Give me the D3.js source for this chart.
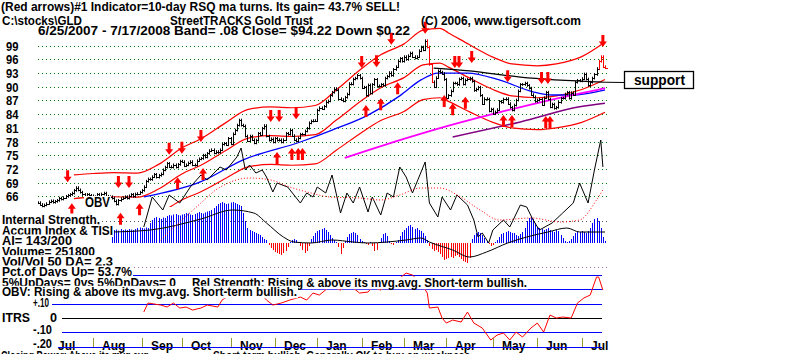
<!DOCTYPE html>
<html>
<head>
<meta charset="utf-8">
<script src="https://cdn.jsdelivr.net/npm/d3@7"></script>
<style>
  body { margin: 0; background: #fff; }
  svg { display: block; font-family: "Liberation Sans", Arial, sans-serif; font-weight: bold; }
</style>
</head>
<body>
<div id="chart"></div>
<script>
const W = 800, H = 354;

// trading calendar
const startDate = "2007-06-25", endDate = "2008-07-17";
const holidays = ["2007-07-04", "2007-09-03", "2007-11-22", "2007-12-25", "2008-01-01",
  "2008-01-21", "2008-02-18", "2008-03-21", "2008-05-26", "2008-07-04"];
const monthNames = ["Jul", "Aug", "Sep", "Oct", "Nov", "Dec", "Jan", "Feb", "Mar", "Apr", "May", "Jun", "Jul"];
const priceTicks = [99, 96, 93, 90, 87, 84, 81, 78, 75, 72, 69, 66];

// daily closes, one per trading day
const closes = [
  64.6, 64.2, 63.9, 64.1, 64.4,
  64.8, 65.0, 64.7, 64.9, 65.1, 65.6, 65.4, 65.7, 66.0, 66.2, 66.4, 66.7, 67.3, 67.9, 67.4, 66.9, 66.4, 66.0, 66.4, 66.2, 66.1,
  65.7, 65.9, 66.4, 66.1, 66.5, 66.7, 66.0, 65.8, 65.9, 65.6, 65.0, 64.3, 65.1, 65.5, 65.7, 65.9, 65.6, 66.1, 66.4, 66.0, 66.5, 66.6, 66.9,
  67.3, 68.1, 69.3, 69.8, 69.7, 70.3, 70.8, 70.2, 70.6, 70.9, 71.8, 72.4, 73.2, 72.5, 72.4, 72.9, 72.4, 73.0, 73.7,
  73.6, 72.7, 72.9, 73.3, 73.6, 72.9, 72.8, 73.8, 74.2, 74.3, 75.0, 74.6, 75.4, 76.0, 76.2, 75.5, 75.8, 75.6, 76.2, 77.4, 77.6, 77.3, 78.7,
  77.5, 79.7, 80.5, 81.6, 82.7, 81.6, 81.4, 79.2, 78.2, 79.2, 78.4, 77.7, 78.3, 79.8, 79.5, 80.9, 81.5, 79.2, 78.3, 78.6, 77.9,
  78.7, 78.3, 78.4, 77.9, 78.4, 79.8, 79.6, 80.5, 79.3, 78.4, 78.1, 78.8, 79.6, 79.6, 80.3, 80.9, 82.1, 82.5, 82.6, 82.6,
  84.9, 85.4, 85.2, 85.7, 86.6, 86.9, 88.1, 88.8, 89.6, 89.3, 87.4, 87.2, 86.9, 87.7, 88.4, 90.7, 90.6, 91.7, 91.9, 92.5, 91.9,
  89.8, 89.9, 88.1, 90.4, 88.6, 90.5, 91.6, 90.1, 90.2, 90.5, 90.3, 91.9, 92.3, 93.1, 92.5, 93.8, 94.4, 95.6, 96.2, 95.6,
  96.6, 96.0, 96.8, 97.4, 96.6, 96.3, 96.6, 97.9, 98.7, 98.1, 100.1, 98.7, 94.9, 91.1, 90.0, 92.0, 93.5, 93.2, 92.9, 91.6,
  87.6, 88.1, 89.1, 90.8, 90.8, 90.5, 91.7, 91.9, 90.6, 91.5, 91.6, 91.9, 91.2, 89.2, 89.5, 89.9, 88.1, 86.3, 87.4, 87.3, 84.7, 85.1,
  84.1, 84.5, 85.0, 86.8, 86.6, 87.3, 87.4, 86.3, 85.5, 84.9, 86.0, 87.1, 89.1, 90.5, 90.5, 90.8, 90.3, 89.7, 88.3, 87.8, 86.8,
  87.1, 87.3, 86.1, 87.6, 88.8, 87.3, 85.6, 86.2, 85.3, 85.5, 86.6, 87.5, 87.5, 88.4, 88.8, 87.5, 88.7, 88.3, 91.0, 91.4, 91.3,
  91.8, 92.8, 91.7, 90.3, 91.0, 91.9, 92.7, 94.0, 95.6, 96.6, 94.4, 94.2
];
const redBars = [184, 185, 186, 265, 266, 267, 268];

// bands around the 21-day ma (read at trading-day indexes)
const bandDays = [17, 26, 36, 47, 57, 68, 77, 89, 99, 110, 120, 131, 141, 153, 162, 173, 182, 190, 194, 204, 215, 224, 236, 245, 257, 268];
const upperBand = [70.7, 71.0, 71.2, 71.1, 73.0, 76.6, 78.6, 82.2, 85.0, 85.6, 85.4, 85.9, 89.3, 94.0, 97.0, 99.4, 102.4, 102.8, 101.8, 99.2, 96.5, 95.0, 94.6, 95.0, 96.6, 99.8];
const ma21 = [65.5, 65.8, 65.9, 65.8, 67.6, 70.9, 72.8, 76.1, 78.7, 79.3, 79.1, 79.5, 82.7, 87.0, 89.8, 92.0, 94.8, 95.2, 94.3, 91.9, 89.4, 88.0, 87.6, 88.0, 89.4, 91.6];
const lowerBand = [60.3, 60.5, 60.6, 60.5, 62.2, 65.2, 67.0, 70.0, 72.4, 73.0, 72.8, 73.1, 76.1, 80.0, 82.6, 84.6, 87.2, 87.6, 86.8, 84.5, 82.2, 81.0, 80.6, 81.0, 82.2, 84.4];

const blueDays = [50, 77, 97, 124, 139, 156, 171, 181, 189, 203, 218, 234, 243, 253, 266, 268];
const blueVals = [65.85, 69.2, 74.0, 77.9, 80.5, 83.8, 88.0, 91.5, 93.0, 93.0, 91.5, 88.9, 88.2, 88.2, 89.1, 89.3];
const magDays = [145, 171, 195, 218, 242, 266, 268];
const magVals = [74.4, 78.3, 81.6, 84.4, 87.1, 89.5, 89.7];
const purDays = [196, 228, 256, 268];
const purVals = [79.0, 82.3, 85.6, 86.4];
const supDays = [187, 204, 228, 267];
const supVals = [94.1, 93.5, 92.1, 91.0];

// red arrows (tip price)
const dnDays = [14, 38, 43, 62, 68, 77, 110, 114, 122, 153, 160, 167, 183, 197, 199, 205, 222, 238, 241, 267];
const dnPrices = [69.1, 67.8, 67.8, 75.1, 75.3, 77.9, 82.3, 82.3, 82.9, 94.1, 94.3, 99.2, 101.6, 94.1, 94.1, 95.2, 91.0, 90.6, 90.6, 98.7];
const upDays = [16, 39, 48, 66, 78, 113, 120, 123, 125, 155, 162, 170, 192, 196, 202, 220, 224, 240, 242];
const upPrices = [64.5, 62.4, 64.5, 70.2, 72.2, 75.7, 76.6, 76.6, 76.6, 86.0, 87.5, 91.0, 88.2, 86.4, 87.8, 83.8, 83.8, 83.6, 83.6];

// OBV (relative units) and its moving average
const obvDays = [50, 54, 59, 62, 67, 72, 77, 80, 86, 89, 94, 96, 98, 100, 103, 106, 108, 111, 113, 118, 121, 124, 127, 130, 132, 136, 139, 143, 146, 149,
  152, 156, 158, 162, 165, 168, 171, 174, 177, 183, 185, 189, 191, 195, 198, 203, 206, 208, 210, 213, 215, 220, 223, 228, 231, 234, 237, 243, 248, 253,
  256, 260, 263, 266, 267];
const obvVals = [18, 48, 35, 50, 42, 58, 70, 65, 78, 75, 88, 97, 75, 80, 72, 75, 68, 53, 62, 58, 50, 42, 52, 48, 58, 52, 70, 32, 52, 42,
  58, 33, 48, 30, 52, 48, 78, 68, 52, 83, 42, 28, 48, 35, 50, 40, 25, 8, 12, 2, 15, 25, 18, 40, 38, 25, 15, 22, 32, 42,
  62, 42, 75, 105, 78];
const obvMaDays = [58, 67, 77, 84, 91, 100, 110, 119, 129, 138, 152, 162, 171, 181, 190, 199, 209, 218, 233, 247, 256, 264, 267];
const obvMaVals = [5, 23, 42, 55, 63, 67, 65, 58, 52, 48, 47, 45, 50, 57, 57, 49, 35, 25, 27, 23, 25, 45, 55];

// Accumulation index, one value per trading day from aiStart
const aiStart = 35;
const aiVals = [
  24, 26, 27, 25, 28, 26, 27, 26, 28, 27, 26,
  28, 30, 31, 30, 29, 31, 30,
  40, 46, 50, 52, 50, 48, 51, 50,
  54, 56, 55, 57, 58, 56, 55, 57, 58, 60, 59, 57, 56, 58, 60, 62, 60, 59, 61, 63, 64, 66,
  70, 74, 78, 80, 82, 80, 78, 79, 81, 82, 80, 78, 76, 74,
  60, 44, 30, 26,
  24, 22, 20, 18, 16, 12, 8, 6,
  -4, -10, -14, -18, -20, -22, -24, -20, -16, -8,
  2, 6, 8, 6, 2,
  -6, -14, -20, -16, -6,
  8, 14, 20, 24, 26, 28, 30, 26, 22, 16, 10, 6,
  2, -8, -22, -10,
  4, 12, 18, 20, 22, 20, 16, 8,
  4, 2, -2, -4, 2, -6, -16, -14,
  2, 10, 18, 20, 14, 4,
  -2, -4, 2, 6,
  14, 22, 26, 30, 34, 36, 32,
  28, 30, 26, 24, 20, 14, 6,
  -6, -12, -16, -14, -18, -22, -28, -34, -32, -30, -28, -30, -26, -24, -28, -32, -36, -38, -40, -30,
  8, 16, 20, 22, 20, 16, 10,
  4, -2, -6, -4, 2, 6,
  12, 18, 20, 22, 24, 22, 20,
  20, 16, 14, 18, 22, 30,
  44, 50, 52, 48, 40,
  32, 30, 28, 26, 28, 30, 26, 24, 22, 26, 24,
  16, 10, 4, 2, 4, 8, 14, 20,
  22, 22, 24, 22, 20, 24,
  30, 40, 48, 50, 44,
  30, 12, 4
];
const aiMaDays = [35, 53, 77, 92, 102, 108, 116, 121, 129, 139, 149, 156, 165, 174, 181, 185, 196, 204, 212, 222, 231, 241, 250, 256, 266, 268];
const aiMaVals = [22, 26, 48, 66, 60, 40, 12, 2, 0, 6, 2, 0, 2, 6, 10, 2, -14, -28, -18, 0, 12, 22, 30, 22, 22, 22];

// ITRS
const itrsLevels = [0.3, 0.2, 0.1, 0, -0.1, -0.2];
const itrsDays = [50, 52, 58, 61, 64, 67, 70, 73, 77, 80, 85, 87, 92, 97, 102, 105, 108, 111, 115, 119,
  124, 127, 130, 133, 137, 139, 143, 146, 149, 152, 156, 158, 162, 165, 168, 171, 174, 177, 181, 184,
  185, 189, 191, 193, 196, 200, 203, 206, 210, 214, 217, 220, 223, 226, 229, 233, 236, 239, 242, 245,
  248, 252, 255, 258, 261, 264, 265, 267];
const itrsVals = [.042, .105, .091, .077, .105, .070, .077, .056, .070, .091, .077, .126, .175, .147, .196, .175, .126, .091, .105, .126,
  .147, .126, .175, .161, .210, .217, .196, .231, .210, .175, .182, .217, .196, .231, .252, .280, .315, .301, .245, .175,
  .070, .077, .000, -.035, -.014, -.028, .042, -.035, -.070, -.154, -.119, -.105, -.154, -.098, -.133, -.070, -.035, -.098, .021, .000,
  .007, .000, .105, .140, .161, .287, .287, .196];

// ---------------------------------------------------------------
const parse = d3.utcParse("%Y-%m-%d"), fmt = d3.utcFormat("%Y-%m-%d");
const days = d3.utcDay.range(parse(startDate), d3.utcDay.offset(parse(endDate), 1))
  .filter((d) => d.getUTCDay() % 6 !== 0 && !holidays.includes(fmt(d)));

const svg = d3.select("#chart").append("svg").attr("width", W).attr("height", H);
svg.append("rect").attr("width", W).attr("height", H).attr("fill", "#fff");

const x = d3.scaleLinear().domain([0, days.length - 1]).range([38, 605]);
const y = d3.scaleLinear().domain([66, 99]).range([196.3, 45.7]);
const yObv = d3.scaleLinear().domain([0, 100]).range([245, 145]);
const yAi = d3.scaleLinear().domain([-100, 100]).range([293, 193]);
const yItrs = d3.scaleLinear().domain([-0.2, 0.3]).range([346.6, 275.2]);

// price grid
svg.append("g").selectAll("line").data(priceTicks).enter().append("line")
  .attr("x1", 38).attr("x2", 607)
  .attr("y1", (d) => Math.round(y(d)) + 0.5).attr("y2", (d) => Math.round(y(d)) + 0.5)
  .attr("stroke", "#008000").attr("stroke-dasharray", "1,3");
svg.append("line").attr("x1", 38).attr("x2", 607).attr("y1", 221.5).attr("y2", 221.5)
  .attr("stroke", "#555").attr("stroke-dasharray", "1,3");
svg.append("line").attr("x1", 38).attr("x2", 607).attr("y1", 267.5).attr("y2", 267.5)
  .attr("stroke", "#a070a0").attr("stroke-dasharray", "1,3");

// ITRS reference lines
const itrsStart = [35, 35, 52, 62, 62, 58];
svg.append("g").selectAll("line").data(itrsLevels).enter().append("line")
  .attr("x1", (d, i) => itrsStart[i]).attr("x2", 602)
  .attr("y1", (d) => Math.round(yItrs(d)) + 0.5).attr("y2", (d) => Math.round(yItrs(d)) + 0.5)
  .attr("stroke", (d) => (d === 0 ? "#000" : "#0000ff")).attr("stroke-width", 1.2);

// price panel lines
svg.append("clipPath").attr("id", "pclip").append("rect")
  .attr("x", 36).attr("y", 20).attr("width", 575).attr("height", 187);
const pg = svg.append("g").attr("clip-path", "url(#pclip)");

function series(days, vals, scale) {
  return d3.line().x((d, i) => x(days[i])).y((d) => scale(d)).curve(d3.curveMonotoneX)(vals);
}
[lowerBand, ma21, upperBand].forEach((vals) => {
  pg.append("path").attr("d", series(bandDays, vals, y))
    .attr("fill", "none").attr("stroke", "#ff0000").attr("stroke-width", 1.2);
});
pg.append("path").attr("d", series(blueDays, blueVals, y))
  .attr("fill", "none").attr("stroke", "#0000ff").attr("stroke-width", 1.3);
pg.append("path").attr("d", series(magDays, magVals, y))
  .attr("fill", "none").attr("stroke", "#ff00ff").attr("stroke-width", 1.8);
pg.append("path").attr("d", series(purDays, purVals, y))
  .attr("fill", "none").attr("stroke", "#800080").attr("stroke-width", 1.5);
pg.append("path").attr("d", series(supDays, supVals, y))
  .attr("fill", "none").attr("stroke", "#000").attr("stroke-width", 1.2);

// accumulation index histogram
svg.append("g").selectAll("line").data(aiVals).enter().append("line")
  .attr("x1", (d, i) => Math.round(x(aiStart + i)) + 0.5)
  .attr("x2", (d, i) => Math.round(x(aiStart + i)) + 0.5)
  .attr("y1", yAi(0)).attr("y2", (d) => yAi(d))
  .attr("stroke", (d) => (d >= 0 ? "#0000ff" : "#ff0000")).attr("stroke-width", 1);
svg.append("path").attr("d", series(aiMaDays, aiMaVals, yAi))
  .attr("fill", "none").attr("stroke", "#000").attr("stroke-width", 1);

// OBV
svg.append("path")
  .attr("d", d3.line().x((d, i) => x(obvDays[i])).y((d) => yObv(d))(obvVals))
  .attr("fill", "none").attr("stroke", "#000").attr("stroke-width", 1);
svg.append("path").attr("d", series(obvMaDays, obvMaVals, yObv))
  .attr("fill", "none").attr("stroke", "#ff0000").attr("stroke-width", 1).attr("stroke-dasharray", "1,2");

// price bars
const bars = svg.append("g");
closes.forEach((c, i) => {
  const prev = i ? closes[i - 1] : c;
  const hi = Math.max(prev, c) + 0.3, lo = Math.min(prev, c) - 0.3;
  const xx = Math.round(x(i)) + 0.5;
  const col = redBars.includes(i) ? "#ff0000" : "#000";
  bars.append("line").attr("x1", xx).attr("x2", xx).attr("y1", y(hi)).attr("y2", y(lo)).attr("stroke", col);
  bars.append("line").attr("x1", xx).attr("x2", xx + 2.5)
    .attr("y1", Math.round(y(c)) + 0.5).attr("y2", Math.round(y(c)) + 0.5).attr("stroke", col);
});

// arrows
function arrow(cx, ty, s) {
  return `M${cx},${ty}L${cx + 4},${ty + 5.5 * s}L${cx + 1.5},${ty + 5.5 * s}L${cx + 1.5},${ty + 12 * s}` +
    `L${cx - 1.5},${ty + 12 * s}L${cx - 1.5},${ty + 5.5 * s}L${cx - 4},${ty + 5.5 * s}Z`;
}
svg.append("g").selectAll("path").data(upDays).enter().append("path")
  .attr("d", (d, i) => arrow(x(d), y(upPrices[i]), 1)).attr("fill", "#ff0000");
svg.append("g").selectAll("path").data(dnDays).enter().append("path")
  .attr("d", (d, i) => arrow(x(d), y(dnPrices[i]), -1)).attr("fill", "#ff0000");

// ITRS line
svg.append("path")
  .attr("d", d3.line().x((d, i) => x(itrsDays[i])).y((d) => yItrs(d))(itrsVals))
  .attr("fill", "none").attr("stroke", "#ff0000").attr("stroke-width", 1);

// texts
function label(t, tx, b, len, size, bg) {
  if (bg) {
    svg.append("rect").attr("x", tx - 1).attr("y", b - 10.5)
      .attr("width", len + 2).attr("height", 12.5).attr("fill", "#fff");
  }
  const el = svg.append("text").attr("x", tx).attr("y", b)
    .attr("font-size", size || 12).attr("fill", "#000").text(t);
  if (len) el.attr("textLength", len).attr("lengthAdjust", "spacingAndGlyphs");
  return el;
}

label("(Red arrows)#1 Indicator=10-day RSQ ma turns. Its gain= 43.7% SELL!", 1, 11, 399, 12.5);
label("C:\\stocks\\GLD", 2, 25, 80, 12.5);
label("StreetTRACKS Gold Trust", 170, 25, 143, 12.5);
label("(C) 2006, www.tigersoft.com", 421, 24.5, 160, 12.5);
label("6/25/2007 - 7/17/2008  Band= .08   Close= $94.22   Down $0.22", 38, 35, 372, 12.5);

priceTicks.forEach((p) => label(String(p), 6, Math.round(y(p)) + 5, 12.5, 12.5));
label("OBV", 85, 206.5, 25, 14, true);

label("Internal Strength,", 2, 224, 98, 12, true);
label("Accum Index & TISI", 2, 235, 111, 12, true);
label("AI= 143/200", 2, 245, 70, 12, true);
label("Volume= 251800", 2, 255.6, 93, 12, true);
label("Vol/Vol 50 DA= 2.3", 2, 265.6, 111, 12, true);
label("Pct.of Days Up= 53.7%", 2, 276, 130, 12, true);
label("5%UpDays= 0vs 5%DnDays= 0", 2, 287.3, 174, 12, true);
label("Rel Strength: Rising & above its mvg.avg. Short-term bullish.", 192, 287.3, 335, 12, true);
label("OBV: Rising & above its mvg.avg. Short-term bullish.", 2, 296.3, 295, 12, true);
label("+.10", 33, 307, 16, 12, true);
label("ITRS", 2, 321.6, 28, 12, true);
label("0", 50, 321.6, 7, 12, true);
label("-.10", 33, 334.3, 19, 12, true);
label("-.20", 33, 348.3, 19, 12, true);
label("Closing Power: Above its mvg.avg.", 1, 359.5, 150);
label("Short-term bullish. Generally OK to buy on weakness.", 213, 359.5, 260);

// months
const monthStarts = [];
days.forEach((d, i) => {
  if (i > 0 && d.getUTCMonth() !== days[i - 1].getUTCMonth()) monthStarts.push(i);
});
monthStarts.forEach((m, k) => {
  label(monthNames[k], Math.round(x(m)) + 9, 349.5, null, 12);
  if (k > 0) {
    svg.append("line").attr("x1", Math.round(x(m)) + 0.5).attr("x2", Math.round(x(m)) + 0.5)
      .attr("y1", 338).attr("y2", 347).attr("stroke", "#999933");
  }
});
svg.append("line").attr("x1", 58).attr("x2", 602)
  .attr("y1", Math.round(yItrs(-0.2)) + 0.5).attr("y2", Math.round(yItrs(-0.2)) + 0.5)
  .attr("stroke", "#0000ff").attr("stroke-width", 1.2);

// support annotation
svg.append("line").attr("x1", x(supDays[supDays.length - 1])).attr("y1", y(supVals[supVals.length - 1]))
  .attr("x2", 624.5).attr("y2", 82.5).attr("stroke", "#000");
svg.append("rect").attr("x", 624.5).attr("y", 71.5).attr("width", 69).attr("height", 17)
  .attr("fill", "#fff").attr("stroke", "#000").attr("stroke-width", 1.3);
label("support", 634, 84.5, 51, 14);
</script>
</body>
</html>
